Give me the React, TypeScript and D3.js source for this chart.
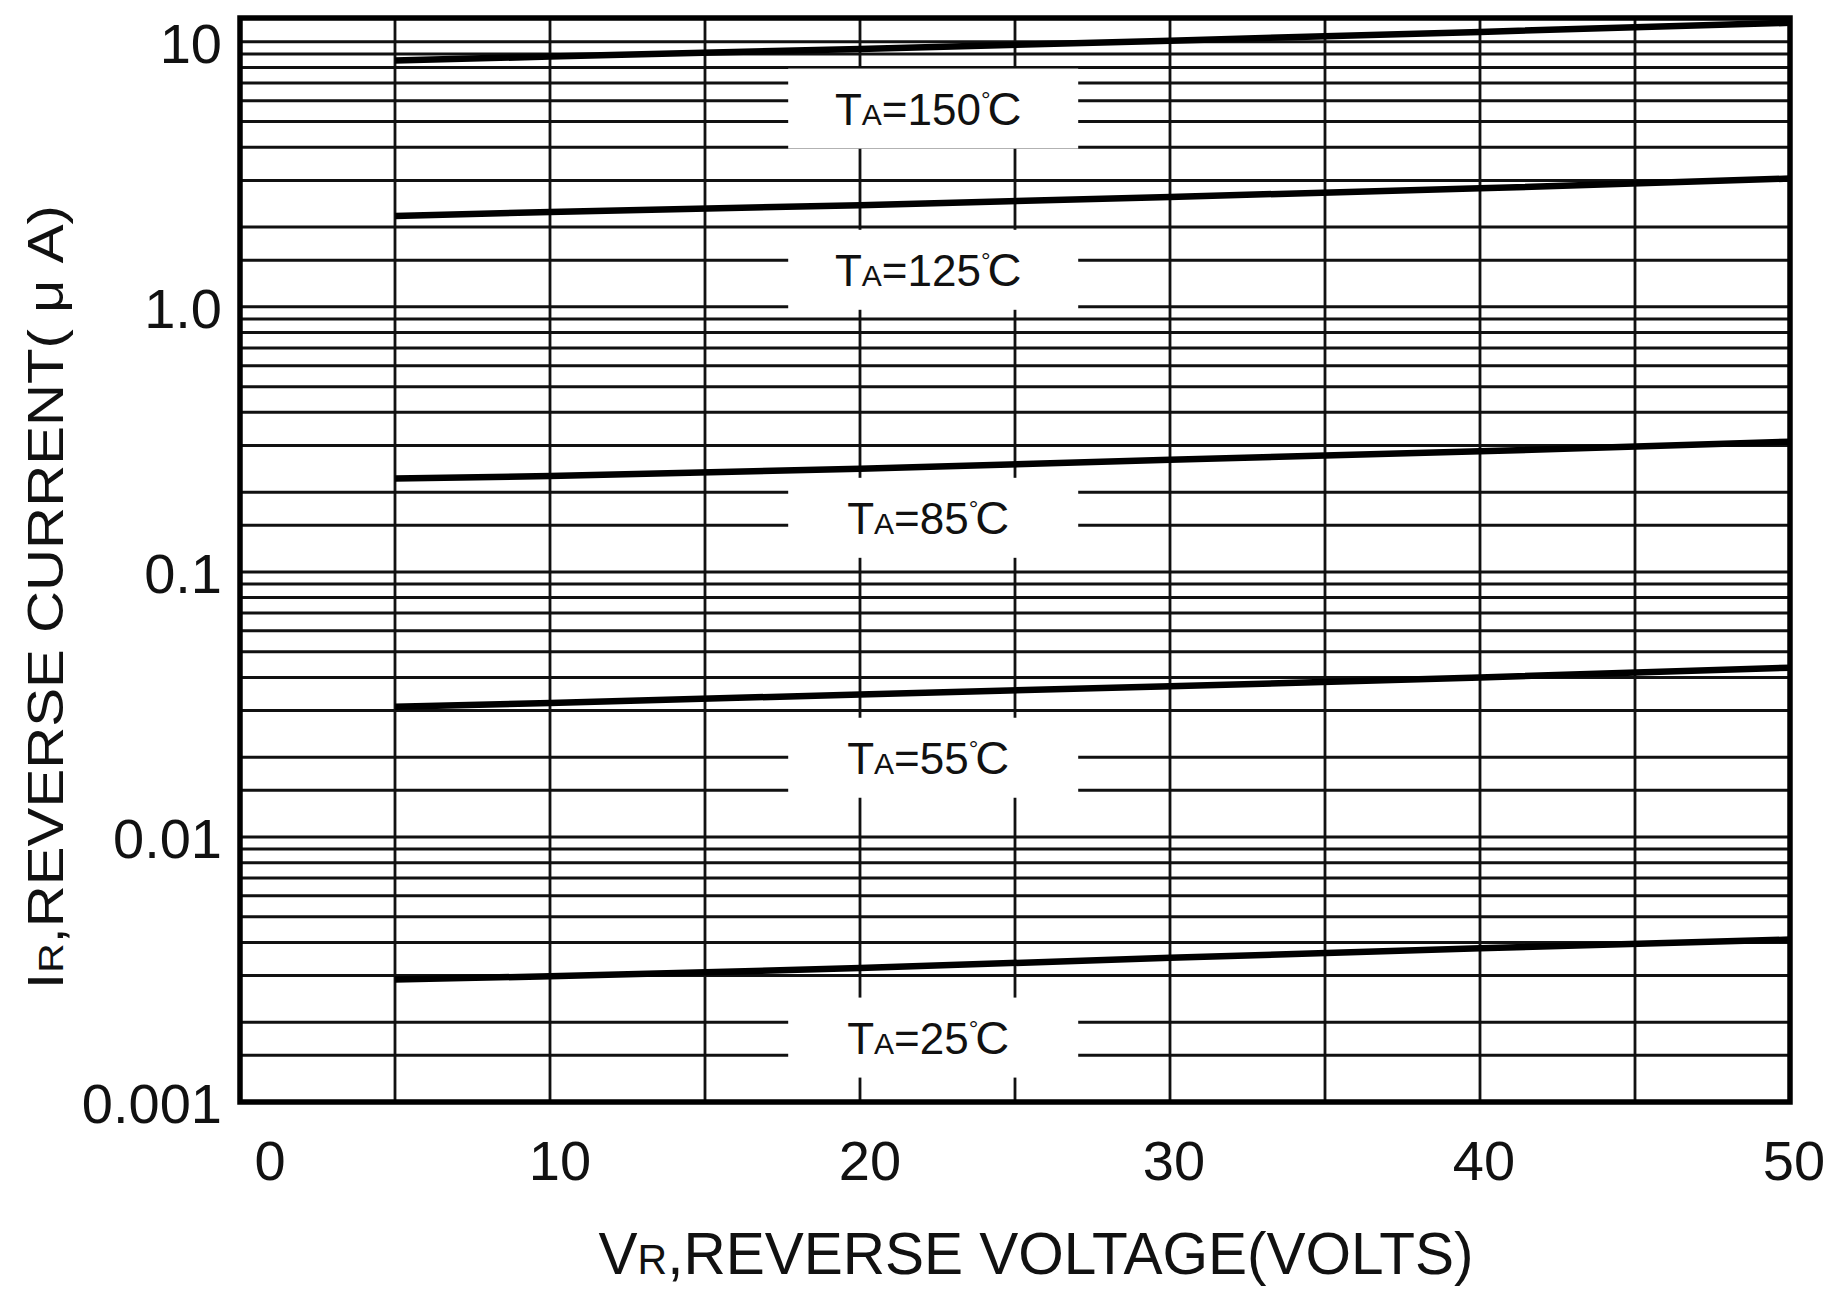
import { useEffect, useRef } from 'react';
import * as d3 from 'd3';

// reverse voltage (V) where each curve is read
const voltages = [5, 10, 20, 30, 40, 50];

// reverse current (uA) per ambient temperature
const i150 = [8.5, 8.8, 9.4, 10.1, 10.9, 11.8];
const i125 = [2.2, 2.28, 2.42, 2.6, 2.8, 3.05];
const i85 = [0.225, 0.23, 0.245, 0.265, 0.285, 0.31];
const i55 = [0.031, 0.032, 0.0345, 0.037, 0.04, 0.0435];
const i25 = [0.0029, 0.00298, 0.0032, 0.0035, 0.0038, 0.0041];

const temps = ['150', '125', '85', '55', '25'];
// where the TA labels sit (volts, uA)
const labelV = 22.2;
const labelI = [5.6, 1.38, 0.16, 0.0199, 0.00175];

const xTicks = [0, 10, 20, 30, 40, 50];
const xGrid = [5, 10, 15, 20, 25, 30, 35, 40, 45];
const yTicks = [10, 1, 0.1, 0.01, 0.001];
const yTickLabels = ['10', '1.0', '0.1', '0.01', '0.001'];
const decades = [0.001, 0.01, 0.1, 1, 10];
const minorSteps = [1, 1.5, 2, 3, 4, 5, 6, 7, 8, 9];

const W = 1835, H = 1310;
const left = 240, right = 1790, top = 18, bottom = 1102;
const FONT = '"Liberation Sans", Arial, "DejaVu Sans", sans-serif';

const buildChart = (svgEl: SVGSVGElement) => {
  const svg = d3.select(svgEl);
  svg.selectAll('*').remove();

  const x = d3.scaleLinear().domain([0, 50]).range([left, right]);
  const y = d3.scaleLog().domain([0.001, 12.3]).range([bottom, top]);

  svg.append('rect').attr('width', W).attr('height', H).attr('fill', '#fff');

  const grid = svg.append('g').attr('stroke', '#111');

  const hLines: number[] = [];
  decades.forEach((d) => minorSteps.forEach((m) => {
    const v = d * m;
    if (v > 0.001 && v < 12.3) hLines.push(v);
  }));

  grid.selectAll('line.h')
    .data(hLines)
    .enter()
    .append('line')
    .attr('x1', left).attr('x2', right)
    .attr('y1', (d) => y(d)).attr('y2', (d) => y(d))
    .attr('stroke-width', 3);

  grid.selectAll('line.v')
    .data(xGrid)
    .enter()
    .append('line')
    .attr('x1', (d) => x(d)).attr('x2', (d) => x(d))
    .attr('y1', top).attr('y2', bottom)
    .attr('stroke-width', 2.8);

  // white boxes behind the temperature labels
  svg.selectAll('rect.box')
    .data(labelI)
    .enter()
    .append('rect')
    .attr('x', x(labelV) - 140)
    .attr('y', (d) => y(d) - 40)
    .attr('width', 290)
    .attr('height', 80)
    .attr('fill', '#fff');

  const lbl = svg.selectAll('text.lbl')
    .data(temps)
    .enter()
    .append('text')
    .attr('x', x(labelV))
    .attr('y', (d, i) => y(labelI[i]) + 16)
    .attr('text-anchor', 'middle')
    .attr('font-family', FONT)
    .attr('font-size', 44)
    .attr('fill', '#111');
  lbl.append('tspan').text('T');
  lbl.append('tspan').attr('font-size', 30).text('A');
  lbl.append('tspan').text((d) => '=' + d);
  lbl.append('tspan').attr('font-size', 24).attr('dy', -17).text('\u00b0');
  lbl.append('tspan').attr('font-size', 47).attr('dy', 17).attr('dx', -3).text('C');

  const series = [i150, i125, i85, i55, i25];
  const line = d3.line<number>()
    .x((d, i) => x(voltages[i]))
    .y((d) => y(d));

  svg.selectAll('path.curve')
    .data(series)
    .enter()
    .append('path')
    .attr('d', (d) => line(d))
    .attr('fill', 'none')
    .attr('stroke', '#000')
    .attr('stroke-width', 6.5);

  svg.append('rect')
    .attr('x', left).attr('y', top)
    .attr('width', right - left).attr('height', bottom - top)
    .attr('fill', 'none')
    .attr('stroke', '#000')
    .attr('stroke-width', 5.5);

  svg.selectAll('text.xt')
    .data(xTicks)
    .enter()
    .append('text')
    .attr('x', (d) => x(d) + (d === 0 ? 30 : d < 30 ? 10 : 4))
    .attr('y', 1180)
    .attr('text-anchor', 'middle')
    .attr('font-family', FONT)
    .attr('font-size', 56)
    .attr('fill', '#111')
    .text((d) => d);

  svg.selectAll('text.yt')
    .data(yTicks)
    .enter()
    .append('text')
    .attr('x', 222)
    .attr('y', (d) => y(d) + 21)
    .attr('text-anchor', 'end')
    .attr('font-family', FONT)
    .attr('font-size', 56)
    .attr('fill', '#111')
    .text((d, i) => yTickLabels[i]);

  const xt = svg.append('text')
    .attr('x', 1036)
    .attr('y', 1274)
    .attr('text-anchor', 'middle')
    .attr('font-family', FONT)
    .attr('font-size', 60)
    .attr('fill', '#111')
    .attr('textLength', 875)
    .attr('lengthAdjust', 'spacingAndGlyphs');
  xt.append('tspan').text('V');
  xt.append('tspan').attr('font-size', 42).text('R');
  xt.append('tspan').text(',REVERSE VOLTAGE(VOLTS)');

  const yt = svg.append('text')
    .attr('transform', 'translate(63,597) rotate(-90)')
    .attr('text-anchor', 'middle')
    .attr('font-family', FONT)
    .attr('font-size', 50)
    .attr('fill', '#111')
    .attr('textLength', 784)
    .attr('lengthAdjust', 'spacingAndGlyphs');
  yt.append('tspan').text('I');
  yt.append('tspan').attr('font-size', 35).text('R');
  yt.append('tspan').text(',REVERSE CURRENT( \u03bc A)');
};

const App = () => {
  const ref = useRef<SVGSVGElement>(null);

  useEffect(() => {
    if (ref.current) buildChart(ref.current);
  }, []);

  return (
    <svg
      ref={ref}
      width={W}
      height={H}
      style={{ position: 'absolute', left: 0, top: 0, display: 'block' }}
    />
  );
};

export default App;
